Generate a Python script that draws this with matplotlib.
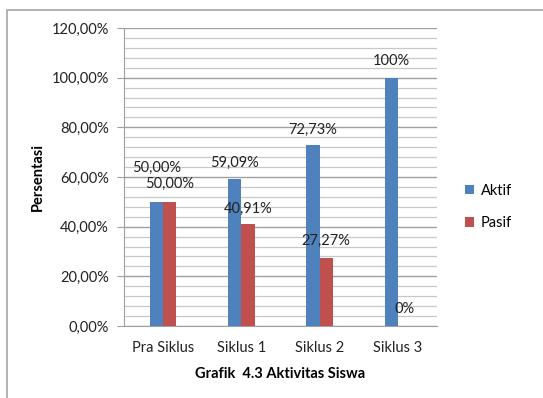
import numpy as np
import matplotlib
matplotlib.use('Agg')
import matplotlib.pyplot as plt
from matplotlib.ticker import MultipleLocator, FuncFormatter
from matplotlib.patches import Rectangle

# data
categories = ['Pra Siklus', 'Siklus 1', 'Siklus 2', 'Siklus 3']
aktif = [50.00, 59.09, 72.73, 100.0]
pasif = [50.00, 40.91, 27.27, 0.0]
aktif_labels = ['50,00%', '59,09%', '72,73%', '100%']
pasif_labels = ['50,00%', '40,91%', '27,27%', '0%']

plt.rcParams['font.family'] = ['Lato', 'DejaVu Sans']
fs = 10.5

fig = plt.figure(figsize=(5.43, 3.98), dpi=100)
ax = fig.add_axes([0.2284, 0.1809, 0.5764, 0.7487])

# outer chart border
fig.patches.append(Rectangle((7 / 543, -0.05), 1.0, 1 - 10 / 398 + 0.05,
                             transform=fig.transFigure, fill=False,
                             edgecolor='#a6a6a6', linewidth=1.2))

x = np.arange(len(categories))
w = 0.168
ax.bar(x - w / 2, aktif, w, color='#4f81bd', label='Aktif', zorder=3)
ax.bar(x + w / 2, pasif, w, color='#c0504d', label='Pasif', zorder=3)

# value labels (Excel labels were dragged a bit, first one sits higher)
aktif_off = [34, 16, 16, 17]
pasif_off = [18, 16, 17, 17]
for i in range(len(categories)):
    ax.annotate(aktif_labels[i], (x[i] - w / 2, aktif[i]), xytext=(0, aktif_off[i]),
                textcoords='offset pixels', ha='center', va='center', fontsize=fs, color='#222222')
    ax.annotate(pasif_labels[i], (x[i] + w / 2, pasif[i]), xytext=(0, pasif_off[i]),
                textcoords='offset pixels', ha='center', va='center', fontsize=fs, color='#222222')

ax.set_xlim(-0.5, 3.5)
ax.set_ylim(0, 120)
ax.yaxis.set_major_locator(MultipleLocator(20))
ax.yaxis.set_minor_locator(MultipleLocator(4))
ax.yaxis.set_major_formatter(FuncFormatter(lambda v, p: f'{v:.2f}%'.replace('.', ',')))
ax.grid(axis='y', which='major', color='#a0a0a0', linewidth=1.0, zorder=0)
ax.grid(axis='y', which='minor', color='#c8c8c8', linewidth=0.9, zorder=0)
ax.set_xticks(x)
ax.set_xticklabels(categories)

for s in ['top', 'right']:
    ax.spines[s].set_visible(False)
ax.spines['left'].set_color('#a0a0a0')
ax.spines['bottom'].set_color('#a0a0a0')
ax.tick_params(axis='y', which='major', length=5, color='#a0a0a0', labelsize=fs, pad=6, labelcolor='#222222')
ax.tick_params(axis='y', which='minor', length=0)
ax.tick_params(axis='x', length=0, labelsize=fs, pad=11, labelcolor='#222222')

ax.set_ylabel('Persentasi', fontsize=fs, fontweight='bold')
ax.yaxis.set_label_coords(-0.275, 0.5)
ax.set_xlabel('Grafik  4.3 Aktivitas Siswa', fontsize=fs, fontweight='bold')
ax.xaxis.set_label_coords(0.5, -0.161)
ax.xaxis.label.set_va('center')
ax.yaxis.label.set_va('center')

ax.legend(loc='center left', bbox_to_anchor=(1.089, 0.40), frameon=False, fontsize=fs,
          handlelength=0.65, handleheight=0.65, labelspacing=1.25, handletextpad=0.45,
          borderpad=0, borderaxespad=0)

fig.savefig('out.png', dpi=100)
